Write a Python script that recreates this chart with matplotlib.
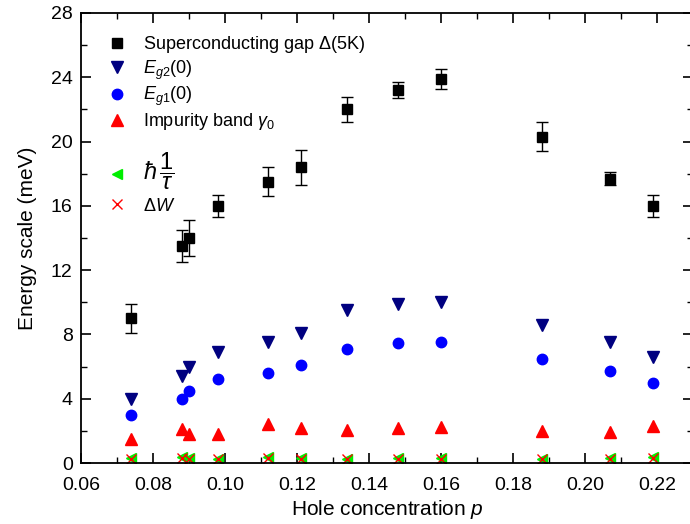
import matplotlib.pyplot as plt
from matplotlib.ticker import MultipleLocator

plt.rcParams['font.family'] = ['Liberation Sans', 'DejaVu Sans']
plt.rcParams['mathtext.fontset'] = 'custom'
plt.rcParams['mathtext.rm'] = 'Liberation Sans'
plt.rcParams['mathtext.it'] = 'Liberation Sans:italic'

# hole concentration of the samples
p = [0.074, 0.088, 0.090, 0.098, 0.112, 0.121, 0.134, 0.148, 0.160, 0.188, 0.207, 0.219]

gap = [9.0, 13.5, 14.0, 16.0, 17.5, 18.4, 22.0, 23.2, 23.9, 20.3, 17.7, 16.0]
gap_err = [0.9, 1.0, 1.1, 0.7, 0.9, 1.1, 0.8, 0.5, 0.6, 0.9, 0.4, 0.7]
eg2 = [4.0, 5.4, 6.0, 6.9, 7.5, 8.1, 9.5, 9.9, 10.0, 8.6, 7.5, 6.6]
eg1 = [3.0, 4.0, 4.5, 5.2, 5.6, 6.1, 7.1, 7.45, 7.5, 6.5, 5.7, 5.0]
gamma0 = [1.5, 2.1, 1.8, 1.8, 2.45, 2.15, 2.05, 2.2, 2.25, 2.0, 1.95, 2.3]
hbar_tau = [0.3, 0.35, 0.3, 0.25, 0.4, 0.3, 0.25, 0.3, 0.3, 0.25, 0.3, 0.35]
dW = [0.25, 0.3, 0.25, 0.25, 0.3, 0.25, 0.25, 0.25, 0.25, 0.25, 0.25, 0.3]

fig = plt.figure(figsize=(6.9, 5.24), dpi=100)
ax = fig.add_axes([0.1174, 0.1164, 0.887, 0.8588])

ax.errorbar(p, gap, yerr=gap_err, fmt='none', ecolor='black', elinewidth=1, capsize=4, capthick=1)
h1, = ax.plot(p, gap, 's', color='black', ms=7, label=r'Superconducting gap $\Delta$(5K)')
h2, = ax.plot(p, eg2, 'v', color='#000080', ms=8, label=r'$E_{g2}$(0)')
h3, = ax.plot(p, eg1, 'o', color='#0000ff', ms=7.5, label=r'$E_{g1}$(0)')
h4, = ax.plot(p, gamma0, '^', color='#ff0000', ms=8, label=r'Impurity band $\gamma_0$')
h5, = ax.plot(p, hbar_tau, '<', color='#00ee00', ms=7, label=r'$\hbar\,\dfrac{1}{\tau}$')
h6, = ax.plot(p, dW, 'x', color='#ff0000', ms=7, mew=1, label=r'$\Delta W$')

ax.set_xlim(0.06, 0.23)
ax.set_ylim(0, 28)
ax.xaxis.set_minor_locator(MultipleLocator(0.01))
ax.yaxis.set_major_locator(MultipleLocator(4))
ax.yaxis.set_minor_locator(MultipleLocator(2))
ax.set_xticks([0.06, 0.08, 0.10, 0.12, 0.14, 0.16, 0.18, 0.20, 0.22])
ax.set_xticklabels(['0.06', '0.08', '0.10', '0.12', '0.14', '0.16', '0.18', '0.20', '0.22'])
ax.tick_params(which='both', direction='in', top=True, right=True, labelsize=14)
ax.tick_params(axis='x', pad=10)
ax.tick_params(axis='y', pad=6)
ax.tick_params(which='major', length=7, width=1.2)
ax.tick_params(which='minor', length=4, width=1)
for s in ax.spines.values():
    s.set_linewidth(1.3)

ax.set_xlabel(r'Hole concentration $p$', fontsize=15, labelpad=3)
ax.set_ylabel('Energy scale (meV)', fontsize=15, labelpad=10)

# legend in two blocks, the fraction entry sits lower with a gap
leg1 = ax.legend(handles=[h1, h2, h3, h4], loc='upper left', frameon=False, fontsize=13,
                 handlelength=2.0, handletextpad=0.4, borderaxespad=0, borderpad=0.4,
                 labelspacing=0.18, bbox_to_anchor=(0.018, 0.969))
ax.add_artist(leg1)
leg2 = ax.legend(handles=[h5, h6], loc='upper left', frameon=False, fontsize=13,
                 handlelength=2.0, handletextpad=0.4, borderaxespad=0, borderpad=0.4,
                 labelspacing=0.3, bbox_to_anchor=(0.018, 0.71))
leg2.get_texts()[0].set_fontsize(17)

fig.savefig('out.png', dpi=100)
